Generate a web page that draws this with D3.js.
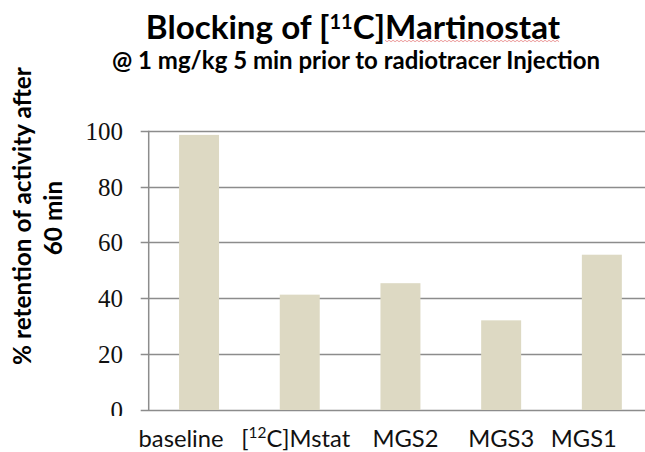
<!DOCTYPE html>
<html>
<head>
<meta charset="utf-8">
<script src="https://cdn.jsdelivr.net/npm/d3@7"></script>
<style>
  html, body { margin: 0; padding: 0; background: #fff; overflow: hidden; }
  svg { display: block; }
</style>
</head>
<body>
<svg id="chart" width="645" height="452"></svg>
<script>
// Data
const categories = ["baseline", "[12C]Mstat", "MGS2", "MGS3", "MGS1"];
const retention = [98.5, 41.3, 45.4, 32.1, 55.6];
const yTicks = [0, 20, 40, 60, 80, 100];

// Layout
const W = 645, H = 452;
const plot = { left: 148.7, top: 130.7, bottom: 410, step: 100.7 };
const labelShift = [-18, -4, 5, 0, -18];
const barColor = "#ddd9c3";
const gridColor = "#8c8c8c";
const sans = "Lato, 'Open Sans', sans-serif";
const serif = "'Liberation Serif', 'DejaVu Serif', serif";

const svg = d3.select("#chart");

const x = d3.scaleBand()
  .domain(categories)
  .range([plot.left, plot.left + plot.step * categories.length])
  .paddingInner(0.603)
  .paddingOuter(0.3015);

const y = d3.scaleLinear().domain([0, 100]).range([plot.bottom, plot.top]);

// Size a text node so that it spans the given width; returns the new size
function fitWidth(node, width) {
  const sel = d3.select(node);
  const fs = parseFloat(sel.attr("font-size"));
  const len = node.getComputedTextLength();
  const size = +(fs * width / len).toFixed(2);
  sel.attr("font-size", size);
  return size;
}

// Gridlines and tick marks
svg.append("g")
  .selectAll("line")
  .data(yTicks)
  .join("line")
  .attr("x1", plot.left - 8)
  .attr("x2", W)
  .attr("y1", d => Math.round(y(d)) + 0.5)
  .attr("y2", d => Math.round(y(d)) + 0.5)
  .attr("stroke", gridColor)
  .attr("stroke-width", 1.5);

// Bars
svg.append("g")
  .selectAll("rect")
  .data(categories.map((c, i) => ({ c, v: retention[i] })))
  .join("rect")
  .attr("x", d => x(d.c))
  .attr("width", x.bandwidth())
  .attr("y", d => y(d.v))
  .attr("height", d => y(0) - y(d.v))
  .attr("fill", barColor);

// Vertical axis line
svg.append("line")
  .attr("x1", plot.left).attr("x2", plot.left)
  .attr("y1", y(100)).attr("y2", y(0) + 1)
  .attr("stroke", gridColor)
  .attr("stroke-width", 1.5);

// Y tick labels (the lowest one is cut by the plot frame)
svg.append("clipPath").attr("id", "tickClip")
  .append("rect").attr("x", 0).attr("y", 0).attr("width", plot.left).attr("height", 416);

svg.append("g")
  .attr("clip-path", "url(#tickClip)")
  .selectAll("text")
  .data(yTicks)
  .join("text")
  .attr("x", 123)
  .attr("y", d => y(d) + 9)
  .attr("text-anchor", "end")
  .attr("font-family", serif)
  .attr("font-size", 25)
  .attr("fill", "#111")
  .text(d => d);

// X category labels
const xl = svg.append("g")
  .selectAll("text")
  .data(categories)
  .join("text")
  .attr("x", (d, i) => x(d) + x.bandwidth() / 2 + labelShift[i])
  .attr("y", 447)
  .attr("text-anchor", "middle")
  .attr("font-family", sans)
  .attr("font-size", 22)
  .attr("fill", "#111");

xl.each(function (d) {
  const t = d3.select(this);
  const m = d.match(/^\[(\d+)(.*)$/);
  if (m) {
    t.append("tspan").text("[");
    t.append("tspan").attr("class", "sup").attr("dy", -9).text(m[1]);
    t.append("tspan").attr("class", "rest").attr("dy", 9).text(m[2]);
  } else {
    t.text(d);
  }
});
// one size for all category labels, set by the first label's span
const labelSize = fitWidth(xl.nodes()[0], 85);
xl.attr("font-size", labelSize);
xl.selectAll("tspan.sup").attr("font-size", labelSize * 0.65);

// Title
const title = svg.append("text")
  .attr("x", 353)
  .attr("y", 39)
  .attr("text-anchor", "middle")
  .attr("font-family", sans)
  .attr("font-weight", "bold")
  .attr("font-size", 30)
  .attr("fill", "#000");
title.append("tspan").text("Blocking of [");
title.append("tspan").attr("dy", -10).attr("font-size", 20).text("11");
title.append("tspan").attr("dy", 10).text("C]");
title.append("tspan").text("Martinostat");
fitWidth(title.node(), 417);

// Spell-check style squiggle under the last word
{
  const node = title.node();
  const box = node.getBBox();
  const n = node.getNumberOfChars();
  const start = node.getStartPositionOfChar(n - 11).x;
  const end = box.x + box.width;
  const pts = d3.range(start, end, 2).map((px, i) => [px, 41 + (i % 2 ? 0.7 : -0.7)]);
  svg.append("path")
    .attr("d", d3.line()(pts))
    .attr("fill", "none")
    .attr("stroke", "#e06060")
    .attr("stroke-width", 0.8)
    .attr("opacity", 0.8);
}

// Subtitle
const sub = svg.append("text")
  .attr("x", 356)
  .attr("y", 69)
  .attr("text-anchor", "middle")
  .attr("font-family", sans)
  .attr("font-weight", "bold")
  .attr("font-size", 19)
  .attr("fill", "#000")
  .text("@ 1 mg/kg 5 min prior to radiotracer Injection");
fitWidth(sub.node(), 488);

// Y axis title, two lines
const yt = svg.append("g").attr("transform", "translate(0,216) rotate(-90)");
const yt1 = yt.append("text")
  .attr("x", 0).attr("y", 31)
  .attr("text-anchor", "middle")
  .attr("font-family", sans)
  .attr("font-weight", "bold")
  .attr("font-size", 20)
  .attr("fill", "#000")
  .text("% retention of activity after");
fitWidth(yt1.node(), 298);
yt.append("text")
  .attr("x", -2).attr("y", 62)
  .attr("text-anchor", "middle")
  .attr("font-family", sans)
  .attr("font-weight", "bold")
  .attr("font-size", yt1.attr("font-size"))
  .attr("fill", "#000")
  .text("60 min");
</script>
</body>
</html>
